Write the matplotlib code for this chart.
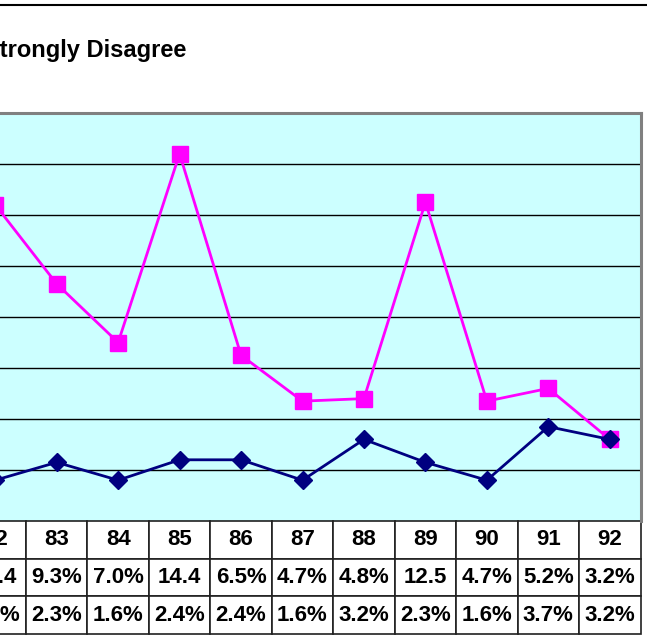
"""
Gráfico de linhas com tabela de dados (estilo Excel) - Strongly Disagree
"""

import matplotlib
matplotlib.use("Agg")
import matplotlib.pyplot as plt
from matplotlib.lines import Line2D

plt.rcParams['font.family'] = ['Liberation Sans', 'DejaVu Sans']

# Dados
anos = ["82", "83", "84", "85", "86", "87", "88", "89", "90", "91", "92"]
serie_rosa = [12.4, 9.3, 7.0, 14.4, 6.5, 4.7, 4.8, 12.5, 4.7, 5.2, 3.2]
serie_azul = [1.6, 2.3, 1.6, 2.4, 2.4, 1.6, 3.2, 2.3, 1.6, 3.7, 3.2]
texto_rosa = ["12.4", "9.3%", "7.0%", "14.4", "6.5%", "4.7%", "4.8%", "12.5", "4.7%", "5.2%", "3.2%"]
texto_azul = ["1.6%", "2.3%", "1.6%", "2.4%", "2.4%", "1.6%", "3.2%", "2.3%", "1.6%", "3.7%", "3.2%"]

W, H = 647, 642
fig = plt.figure(figsize=(W / 100, H / 100), dpi=100)

# area do grafico (parte esquerda fica fora da imagem)
x_esq, x_dir = -35.5, 640.5
y_top, y_bot = 113, 521
ax = fig.add_axes([x_esq / W, 1 - y_bot / H, (x_dir - x_esq) / W, (y_bot - y_top) / H])
ax.set_facecolor('#CCFFFF')

x = list(range(len(anos)))
ax.plot(x, serie_rosa, color='#FF00FF', linewidth=2, marker='s', markersize=11,
        markerfacecolor='#FF00FF', markeredgecolor='#FF00FF', zorder=3)
ax.plot(x, serie_azul, color='#000080', linewidth=2, marker='D', markersize=9,
        markerfacecolor='#000080', markeredgecolor='#000080', zorder=4)

ax.set_xlim(-0.5, len(anos) - 0.5)
ax.set_ylim(0, 16)
ax.set_yticks([2, 4, 6, 8, 10, 12, 14])
ax.yaxis.grid(True, color='black', linewidth=1)
ax.set_axisbelow(True)
ax.tick_params(left=False, bottom=False, labelleft=False, labelbottom=False)

for lado in ['left', 'bottom']:
    ax.spines[lado].set_visible(False)
for lado in ['top', 'right']:
    ax.spines[lado].set_color('#808080')
    ax.spines[lado].set_linewidth(2.2)

# tabela de dados
alt_tab = (634 - y_bot) / (y_bot - y_top)
tabela = ax.table(cellText=[texto_rosa, texto_azul], colLabels=anos,
                  cellLoc='center', bbox=[0, -alt_tab, 1, alt_tab])
tabela.auto_set_font_size(False)
for (r, c), cel in tabela.get_celld().items():
    cel.set_edgecolor('#202020')
    cel.set_linewidth(1.2)
    cel.set_facecolor('white')
    cel.get_text().set_fontsize(16)
    cel.get_text().set_fontweight('bold')

# titulo e borda superior
fig.text(186 / W, 1 - 50 / H, "Strongly Disagree", ha='right', va='center',
         fontsize=17, fontweight='bold')
fig.add_artist(Line2D([0, 1], [1 - 4.5 / H, 1 - 4.5 / H], color='black', linewidth=1.5))

fig.savefig("out.png", dpi=100)
